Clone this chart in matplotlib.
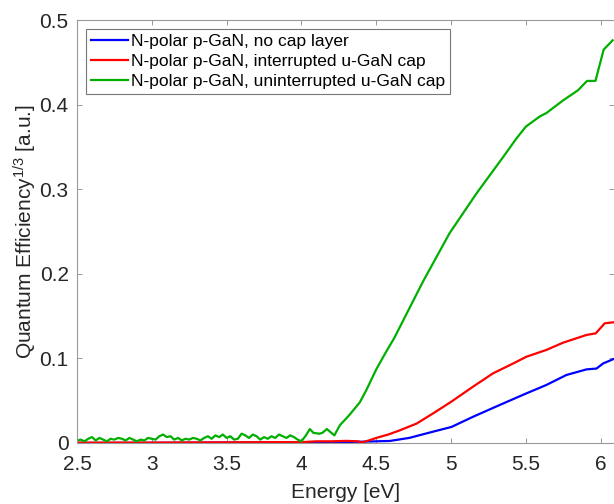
import numpy as np
import matplotlib
matplotlib.use('Agg')
import matplotlib.pyplot as plt

plt.rcParams['font.family'] = ['Liberation Sans', 'DejaVu Sans']
plt.rcParams['mathtext.default'] = 'regular'

# no cap layer
blue_E = [2.5, 3.0, 3.5, 4.0, 4.2, 4.4, 4.5, 4.59, 4.72, 4.88, 5.003, 5.147, 5.326,
          5.504, 5.637, 5.771, 5.905, 5.972, 6.016, 6.083]
blue_QE = [0.0, 0.0002, 0.0005, 0.0005, 0.001, 0.0015, 0.002, 0.0024, 0.006, 0.0134,
           0.019, 0.031, 0.045, 0.0587, 0.0686, 0.0804, 0.087, 0.088, 0.094, 0.099]

# interrupted u-GaN cap
red_E = [2.5, 3.0, 3.5, 3.8, 4.0, 4.1, 4.2, 4.3, 4.38, 4.40, 4.45, 4.50, 4.58, 4.658,
         4.77, 4.88, 5.003, 5.147, 5.281, 5.415, 5.504, 5.637, 5.749, 5.905, 5.967,
         6.027, 6.083]
red_QE = [0.0005, 0.0005, 0.0008, 0.001, 0.001, 0.002, 0.002, 0.0025, 0.002, 0.0005,
          0.003, 0.006, 0.010, 0.015, 0.023, 0.035, 0.049, 0.0666, 0.0824, 0.094, 0.102,
          0.110, 0.1186, 0.1277, 0.1296, 0.1415, 0.1426]

# uninterrupted u-GaN cap
green_E = [2.500, 2.525, 2.550, 2.575, 2.600, 2.625, 2.650, 2.675, 2.700, 2.725,
           2.750, 2.775, 2.800, 2.825, 2.850, 2.875, 2.900, 2.925, 2.950, 2.975,
           3.000, 3.025, 3.050, 3.075, 3.100, 3.125, 3.150, 3.175, 3.200, 3.225,
           3.250, 3.275, 3.300, 3.325, 3.350, 3.375, 3.400, 3.425, 3.450, 3.475,
           3.500, 3.525, 3.550, 3.575, 3.600, 3.625, 3.650, 3.675, 3.700, 3.725,
           3.750, 3.775, 3.800, 3.825, 3.850, 3.875, 3.900, 3.925, 3.950, 3.975,
           4.000, 4.030, 4.056, 4.080, 4.120, 4.140, 4.170, 4.200, 4.220, 4.257,
           4.320, 4.390, 4.435, 4.500, 4.560, 4.620, 4.813, 4.990, 5.170, 5.348,
           5.437, 5.500, 5.593, 5.637, 5.749, 5.849, 5.909, 5.965, 6.020, 6.080]
green_QE = [0.003, 0.004, 0.002, 0.005, 0.007, 0.003, 0.006, 0.004, 0.002, 0.005,
            0.004, 0.006, 0.005, 0.003, 0.006, 0.004, 0.002, 0.004, 0.003, 0.006,
            0.005, 0.004, 0.008, 0.010, 0.007, 0.008, 0.004, 0.006, 0.003, 0.005,
            0.004, 0.006, 0.005, 0.003, 0.006, 0.008, 0.005, 0.009, 0.007, 0.010,
            0.006, 0.008, 0.004, 0.005, 0.011, 0.009, 0.006, 0.010, 0.008, 0.004,
            0.007, 0.005, 0.008, 0.006, 0.010, 0.008, 0.006, 0.009, 0.007, 0.004,
            0.002, 0.009, 0.0165, 0.012, 0.011, 0.012, 0.0165, 0.012, 0.009, 0.021,
            0.033, 0.048, 0.063, 0.087, 0.106, 0.124, 0.191, 0.248, 0.295, 0.338,
            0.360, 0.374, 0.386, 0.390, 0.405, 0.417, 0.428, 0.428, 0.465, 0.476]

labels = ['N-polar p-GaN, no cap layer',
          'N-polar p-GaN, interrupted u-GaN cap',
          'N-polar p-GaN, uninterrupted u-GaN cap']
xticks = [2.5, 3, 3.5, 4, 4.5, 5, 5.5, 6]
xticklabels = ['2.5', '3', '3.5', '4', '4.5', '5', '5.5', '6']
yticks = [0, 0.1, 0.2, 0.3, 0.4, 0.5]
yticklabels = ['0', '0.1', '0.2', '0.3', '0.4', '0.5']

fig = plt.figure(figsize=(6.14, 5.04), dpi=100)
ax = fig.add_axes([77 / 614, 1 - 443 / 504, 1 - 77 / 614, (443 - 20) / 504])

ax.plot(blue_E, blue_QE, color='#0000ff', lw=1.6, label=labels[0])
ax.plot(red_E, red_QE, color='#ff0000', lw=1.6, label=labels[1])
ax.plot(green_E, green_QE, color='#00b000', lw=1.6, label=labels[2])

ax.set_xlim(2.5, 6.089)
ax.set_ylim(0, 0.5)
ax.set_xticks(xticks)
ax.set_xticklabels(xticklabels)
ax.set_yticks(yticks)
ax.set_yticklabels(yticklabels)

ax.tick_params(direction='in', length=3.5, width=0.6, color='#888888',
               labelsize=15, labelcolor='#262626', top=True, right=True)
ax.tick_params(axis='x', pad=9)
ax.tick_params(axis='y', pad=6)
for s in ax.spines.values():
    s.set_color('#999999')
    s.set_linewidth(0.8)
ax.spines['right'].set_visible(False)

ax.set_xlabel('Energy [eV]', fontsize=15, color='#262626', labelpad=6)
ax.set_ylabel('Quantum Efficiency$^{1/3}$ [a.u.]', fontsize=15, color='#262626', labelpad=0.5)

leg = ax.legend(loc='upper left', bbox_to_anchor=(0.016, 0.979), borderaxespad=0,
                fontsize=12.5, fancybox=False, framealpha=1, edgecolor='#777777',
                handlelength=2.15, handletextpad=0.15, borderpad=0.3, labelspacing=0.27)
leg.get_frame().set_linewidth(0.8)
for t in leg.get_texts():
    t.set_color('#000000')

fig.savefig('out.png', dpi=100)
